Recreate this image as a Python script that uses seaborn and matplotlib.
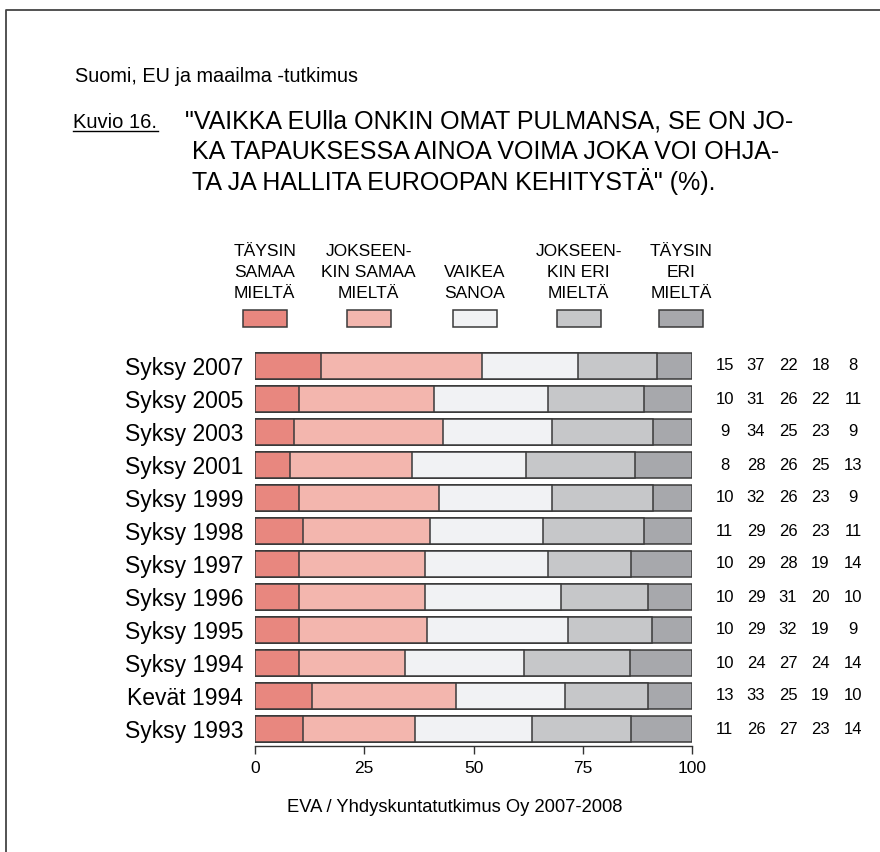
import numpy as np
import pandas as pd
import matplotlib
matplotlib.use("Agg")
import matplotlib.pyplot as plt
from matplotlib.patches import Rectangle
from matplotlib.lines import Line2D
import seaborn as sns

# ---- data ----
periods = ["Syksy 2007", "Syksy 2005", "Syksy 2003", "Syksy 2001", "Syksy 1999",
           "Syksy 1998", "Syksy 1997", "Syksy 1996", "Syksy 1995", "Syksy 1994",
           "Kevät 1994", "Syksy 1993"]
taysin_samaa = [15, 10, 9, 8, 10, 11, 10, 10, 10, 10, 13, 11]
jokseenkin_samaa = [37, 31, 34, 28, 32, 29, 29, 29, 29, 24, 33, 26]
vaikea_sanoa = [22, 26, 25, 26, 26, 26, 28, 31, 32, 27, 25, 27]
jokseenkin_eri = [18, 22, 23, 25, 23, 23, 19, 20, 19, 24, 19, 23]
taysin_eri = [8, 11, 9, 13, 9, 11, 14, 10, 9, 14, 10, 14]
categories = ["TÄYSIN\nSAMAA\nMIELTÄ", "JOKSEEN-\nKIN SAMAA\nMIELTÄ", "VAIKEA\nSANOA",
              "JOKSEEN-\nKIN ERI\nMIELTÄ", "TÄYSIN\nERI\nMIELTÄ"]
xtick_values = [0, 25, 50, 75, 100]

colors = ["#E8877F", "#F3B6AE", "#F1F2F4", "#C6C7C9", "#A7A8AC"]
edge = "#3a3a3a"

series = [taysin_samaa, jokseenkin_samaa, vaikea_sanoa, jokseenkin_eri, taysin_eri]
vals = np.array(series, dtype=float).T           # rows x 5
shares = vals / vals.sum(axis=1, keepdims=True) * 100
cum = np.cumsum(shares, axis=1)

W, H = 880, 852
plt.rcParams['font.family'] = ['Liberation Sans', 'DejaVu Sans']
fig = plt.figure(figsize=(W / 100, H / 100), dpi=100)
fig.patch.set_facecolor("white")

def fx(x):
    return x / W

def fy(y):
    return 1 - y / H

# axes placement
ax_left, ax_right = 255, 692
ax_top, ax_bot = 349.5, 745.5
ax = fig.add_axes([fx(ax_left), fy(ax_bot), (ax_right - ax_left) / W, (ax_bot - ax_top) / H])

df = pd.DataFrame({"period": periods})
for k in reversed(range(5)):
    df["v"] = cum[:, k]
    sns.barplot(data=df, x="v", y="period", orient="h", color=colors[k], saturation=1,
                edgecolor=edge, linewidth=1.1, width=0.76, ax=ax, order=periods)

ax.set_xlim(0, 100)
ax.set_ylim(len(periods) - 0.5, -0.5)
ax.set_xlabel("")
ax.set_ylabel("")
for s in ["top", "right", "left"]:
    ax.spines[s].set_visible(False)
ax.spines["bottom"].set_bounds(0, 100)
ax.spines["bottom"].set_color("#333333")
ax.spines["bottom"].set_linewidth(1.0)
ax.set_xticks(xtick_values)
ax.set_xticklabels([str(v) for v in xtick_values], fontsize=12.5)
ax.tick_params(axis="x", length=6, width=1.0, color="#333333", pad=5)
ax.tick_params(axis="y", length=0, pad=8.5, labelsize=16.5)
ax.set_facecolor("none")

# value columns on the right
col_px = [724.5, 756, 788, 820.5, 853]
for i in range(len(periods)):
    for k in range(5):
        ax.text((col_px[k] - ax_left) / (ax_right - ax_left), i, str(series[k][i]),
                transform=ax.get_yaxis_transform(), ha="center", va="center", fontsize=12)

# legend
leg_cx = [264.7, 368.7, 474.5, 578.8, 681.3]
for k, lab in enumerate(categories):
    fig.text(fx(leg_cx[k]), fy(301), lab, ha="center", va="bottom", fontsize=12.5,
             linespacing=1.5, multialignment="center")
    fig.add_artist(Rectangle((fx(leg_cx[k] - 22), fy(327)), 44 / W, 17 / H,
                             transform=fig.transFigure, facecolor=colors[k],
                             edgecolor=edge, linewidth=1.1))

# headings
fig.text(fx(75), fy(82), "Suomi, EU ja maailma -tutkimus", fontsize=14.3, va="baseline", ha="left")
fig.text(fx(73), fy(128), "Kuvio 16.", fontsize=14.5, va="baseline", ha="left")
fig.add_artist(Line2D([fx(73), fx(158)], [fy(131), fy(131)], transform=fig.transFigure,
                      color="black", linewidth=1.0))
fig.text(fx(185), fy(128), "\"VAIKKA EUlla ONKIN OMAT PULMANSA, SE ON JO-",
         fontsize=18, va="baseline", ha="left")
fig.text(fx(192), fy(159), "KA TAPAUKSESSA AINOA VOIMA JOKA VOI OHJA-",
         fontsize=18, va="baseline", ha="left")
fig.text(fx(192), fy(190), "TA JA HALLITA EUROOPAN KEHITYSTÄ\" (%).",
         fontsize=18, va="baseline", ha="left")

# footer
fig.text(fx(455), fy(808), "EVA / Yhdyskuntatutkimus Oy 2007-2008", fontsize=13.2,
         ha="center", va="center")

# frame lines (left and top)
fig.add_artist(Line2D([fx(5.5), fx(5.5), fx(880)], [fy(852), fy(9.5), fy(9.5)],
                      transform=fig.transFigure, color="#444444", linewidth=1.3))

fig.savefig("out.png", dpi=100, facecolor="white")
